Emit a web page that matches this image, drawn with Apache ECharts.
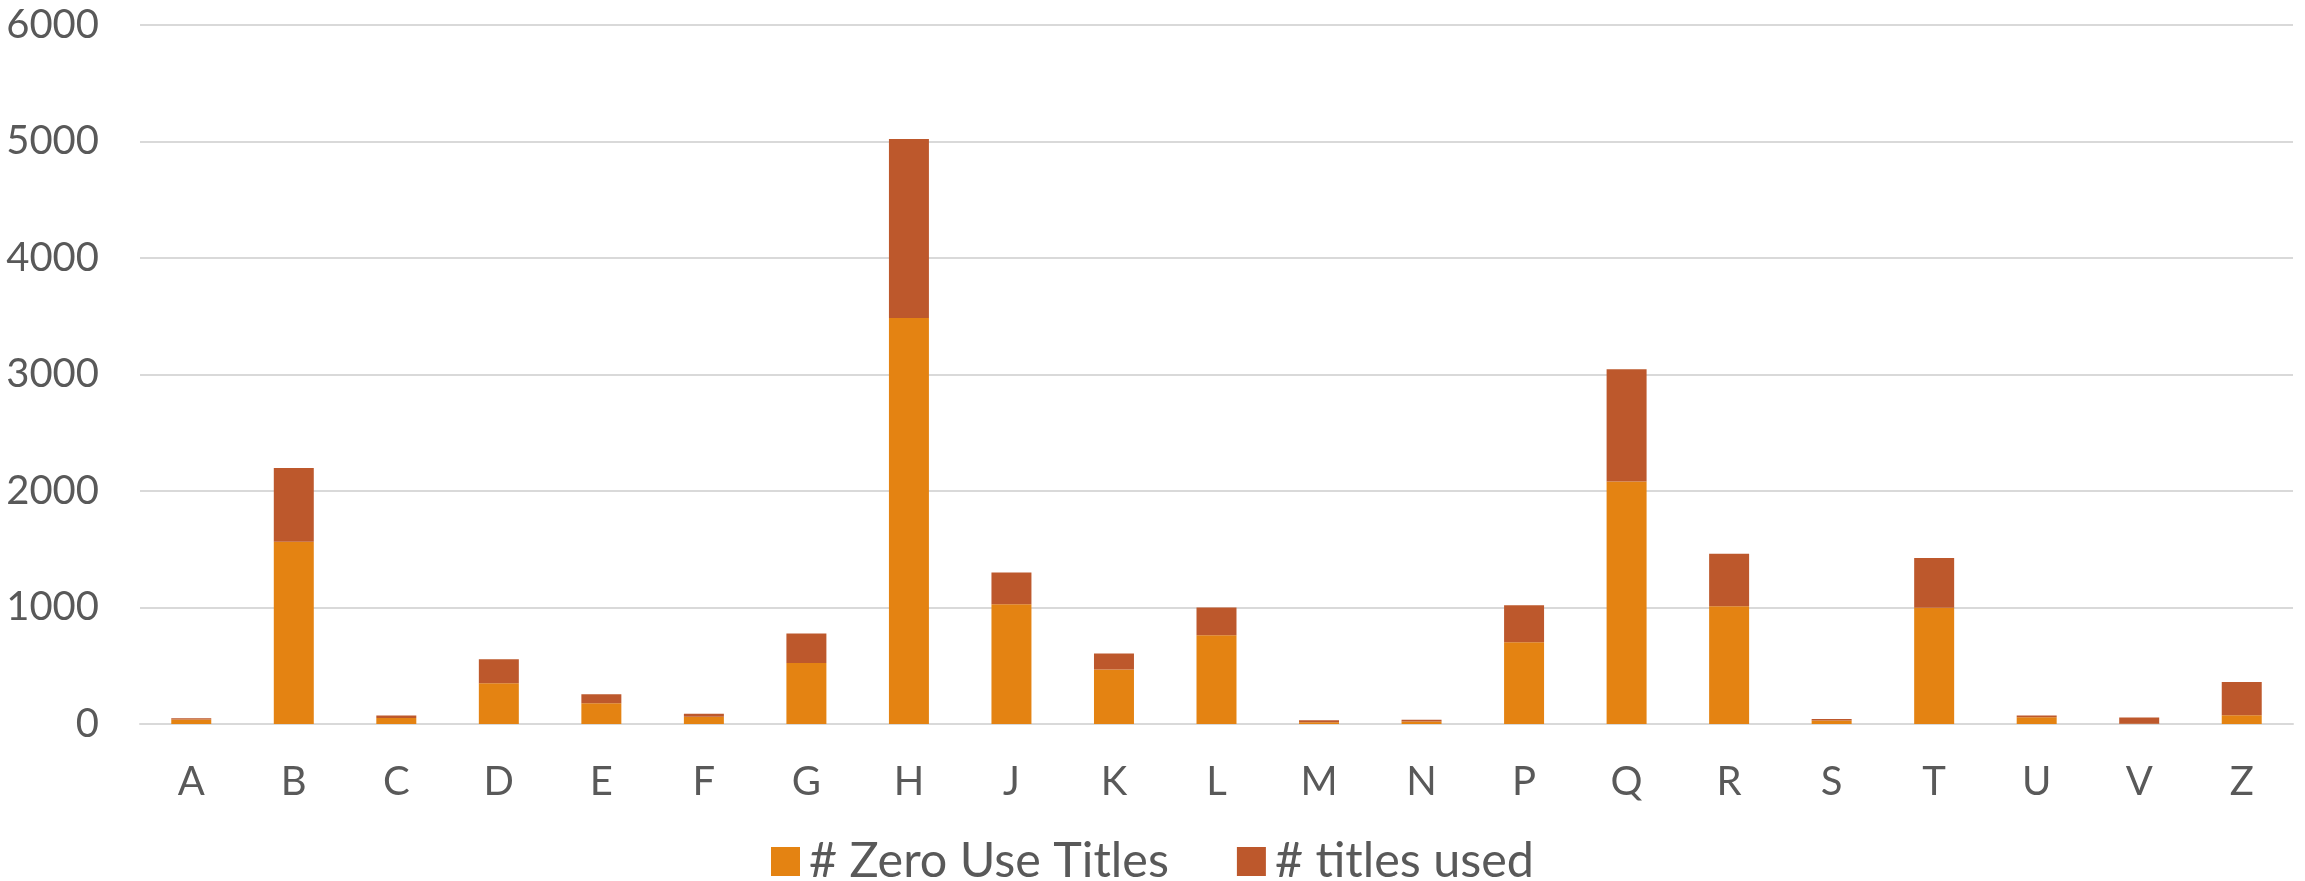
<!DOCTYPE html>
<html>
<head>
<meta charset="utf-8">
<script src="https://cdn.jsdelivr.net/npm/echarts@6/dist/echarts.min.js"></script>
<style>
html, body { margin: 0; padding: 0; background: #fff; }
#main { width: 2305px; height: 881px; }
</style>
</head>
<body>
<div id="main"></div>
<script>
var categories = ['A', 'B', 'C', 'D', 'E', 'F', 'G', 'H', 'J', 'K', 'L', 'M', 'N', 'P', 'Q', 'R', 'S', 'T', 'U', 'V', 'Z'];
var zeroUse = [38, 1565, 52, 350, 178, 63, 524, 3485, 1028, 467, 762, 15, 22, 702, 2082, 1011, 29, 997, 58, 3, 75];
var titlesUsed = [11, 632, 20, 206, 77, 26, 253, 1536, 273, 138, 238, 17, 14, 318, 963, 450, 14, 427, 14, 52, 286];

var main = echarts.init(document.getElementById('main'));

var textColor = '#595959';
var font = 'Lato';

var option = {
	animation: false,
	color: ['#E48312', '#BD582C'],
	grid: {
		left: 140,
		right: 12,
		top: 25,
		bottom: 157
	},
	legend: {
		top: 832,
		left: 'center',
		itemWidth: 29,
		itemHeight: 29,
		itemGap: 68,
		icon: 'rect',
		textStyle: {
			color: textColor,
			fontSize: 48.5,
			fontFamily: font,
			padding: [0, 0, 0, 4]
		},
		data: ['# Zero Use Titles', '# titles used']
	},
	xAxis: {
		type: 'category',
		data: categories,
		axisLine: { lineStyle: { color: '#d9d9d9', width: 2 } },
		axisTick: { show: false },
		axisLabel: {
			color: textColor,
			fontSize: 40,
			fontFamily: font,
			margin: 38
		}
	},
	yAxis: {
		type: 'value',
		min: 0,
		max: 6000,
		interval: 1000,
		axisLine: { show: false },
		axisTick: { show: false },
		splitLine: { lineStyle: { color: '#d9d9d9', width: 2 } },
		axisLabel: {
			color: textColor,
			fontSize: 40,
			fontFamily: font,
			margin: 41,
			formatter: function (v) { return String(v); }
		}
	},
	series: [{
		name: '# Zero Use Titles',
		type: 'bar',
		stack: 'total',
		barCategoryGap: '61%',
		data: zeroUse
	}, {
		name: '# titles used',
		type: 'bar',
		stack: 'total',
		data: titlesUsed
	}]
};
main.setOption(option);
</script>
</body>
</html>
